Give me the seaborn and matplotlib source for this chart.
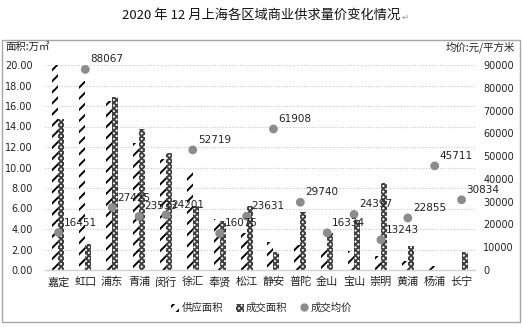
import numpy as np
import pandas as pd
import matplotlib
matplotlib.use("Agg")
import matplotlib.pyplot as plt
from matplotlib.patches import Patch, Rectangle
from matplotlib.lines import Line2D
import seaborn as sns

# ---- data ----
districts = ["嘉定", "虹口", "浦东", "青浦", "闵行", "徐汇", "奉贤", "松江",
             "静安", "普陀", "金山", "宝山", "崇明", "黄浦", "杨浦", "长宁"]
supply_area = [20.0, 18.4, 16.5, 12.4, 10.8, 9.7, 5.0, 3.6,
               2.7, 2.4, 2.2, 1.9, 1.4, 0.9, 0.4, 0.0]
deal_area = [14.7, 2.5, 16.9, 13.8, 11.4, 6.2, 4.8, 6.2,
             1.8, 5.7, 3.6, 4.9, 8.5, 2.3, 0.0, 1.8]
avg_price = [16451, 88067, 27425, 23533, 24201, 52719, 16075, 23631,
             61908, 29740, 16334, 24397, 13243, 22855, 45711, 30834]
series_names = ["供应面积", "成交面积", "成交均价"]
left_ticks = [0, 2, 4, 6, 8, 10, 12, 14, 16, 18, 20]
right_ticks = [0, 10000, 20000, 30000, 40000, 50000, 60000, 70000, 80000, 90000]
title = "2020 年 12 月上海各区域商业供求量价变化情况"

sns.set_theme(style="white")
plt.rcParams["font.family"] = ["Noto Sans CJK SC", "DejaVu Sans"]
plt.rcParams["hatch.linewidth"] = 1.4

W, H = 523, 327
fig = plt.figure(figsize=(W / 100, H / 100), dpi=100)
ax = fig.add_axes([45 / W, 1 - 270 / H, 430 / W, 205 / H])

df = pd.DataFrame({
    "区域": districts * 2,
    "面积": supply_area + deal_area,
    "类型": [series_names[0]] * len(districts) + [series_names[1]] * len(districts),
})
sns.barplot(data=df, x="区域", y="面积", hue="类型", order=districts,
            hue_order=series_names[:2], width=0.45, dodge=True, gap=0,
            errorbar=None, legend=False, ax=ax,
            palette=["white", "white"])

styles = [dict(hatch="///", edgecolor="black"),
          dict(hatch="xxxxxx", edgecolor="#404040")]
for cont, st in zip(ax.containers, styles):
    for p in cont.patches:
        p.set_facecolor("white")
        p.set_edgecolor(st["edgecolor"])
        p.set_hatch(st["hatch"])
        p.set_linewidth(0)

ax.set_ylim(0, 20)
ax.set_yticks(left_ticks)
ax.set_yticklabels([f"{v:.2f}" for v in left_ticks], family="DejaVu Sans",
                   fontsize=7, color="#222222")
ax.set_xlim(-0.5, len(districts) - 0.5)
ax.set_xlabel("")
ax.set_ylabel("")
ax.tick_params(axis="x", length=0, pad=5, labelsize=8, colors="#222222")
ax.tick_params(axis="y", length=0, pad=9)
ax.yaxis.grid(True, linestyle=(0, (1, 1.5)), color="#c8c8c8", linewidth=0.8)
ax.set_axisbelow(True)
for s in ["left", "right", "top"]:
    ax.spines[s].set_visible(False)
ax.spines["bottom"].set_color("#d0d0d0")
ax.spines["bottom"].set_linewidth(1)

ax2 = ax.twinx()
xpos = np.arange(len(districts))
sns.scatterplot(x=xpos, y=avg_price, ax=ax2, color="#8c8c8c", s=40,
                edgecolor="none", legend=False, zorder=5)
ax2.set_ylim(0, 90000)
ax2.set_yticks(right_ticks)
ax2.set_yticklabels([str(v) for v in right_ticks], family="DejaVu Sans",
                    fontsize=7, color="#222222")
ax2.tick_params(axis="y", length=0, pad=6)
ax2.set_ylabel("")
for s in ["left", "right", "top", "bottom"]:
    ax2.spines[s].set_visible(False)
for xi, v in zip(xpos, avg_price):
    ax2.annotate(str(v), (xi, v), xytext=(5, 10), textcoords="offset pixels",
                 ha="left", va="center", fontsize=7.5, family="DejaVu Sans",
                 color="#222222", zorder=6)

# axis unit labels
fig.text(5 / W, 1 - 47 / H, "面积:万㎡", ha="left", va="center", fontsize=7.5,
         color="#222222", family=["Noto Sans CJK SC", "DejaVu Sans"])
fig.text(515 / W, 1 - 47 / H, "均价:元/平方米", ha="right", va="center",
         fontsize=7.5, color="#222222")

# legend
handles = [
    Patch(facecolor="white", edgecolor="black", hatch="///", linewidth=0),
    Patch(facecolor="white", edgecolor="#404040", hatch="xxxxxx", linewidth=0),
    Line2D([], [], marker="o", linestyle="none", color="#8c8c8c",
           markersize=5),
]
fig.legend(handles, series_names, loc="center", bbox_to_anchor=(0.5, 19 / H),
           ncol=3, frameon=False, fontsize=7.5, handlelength=0.8,
           handleheight=0.8, handletextpad=0.2, columnspacing=1.2)

# title and chart border
t = fig.text(0.5, 1 - 15 / H, title, ha="center", va="center", fontsize=9.5,
             color="#111111")
fig.canvas.draw()
bb = t.get_window_extent()
fig.text((bb.x1 + 1) / W, 1 - 17 / H, "↵", ha="left", va="center",
         fontsize=6, color="#909090", family="DejaVu Sans")

fig.patches.append(Rectangle((2 / W, 5 / H), 518 / W, 282 / H,
                             transform=fig.transFigure, fill=False,
                             edgecolor="#a6a6a6", linewidth=1))

fig.savefig("out.png", dpi=100)
